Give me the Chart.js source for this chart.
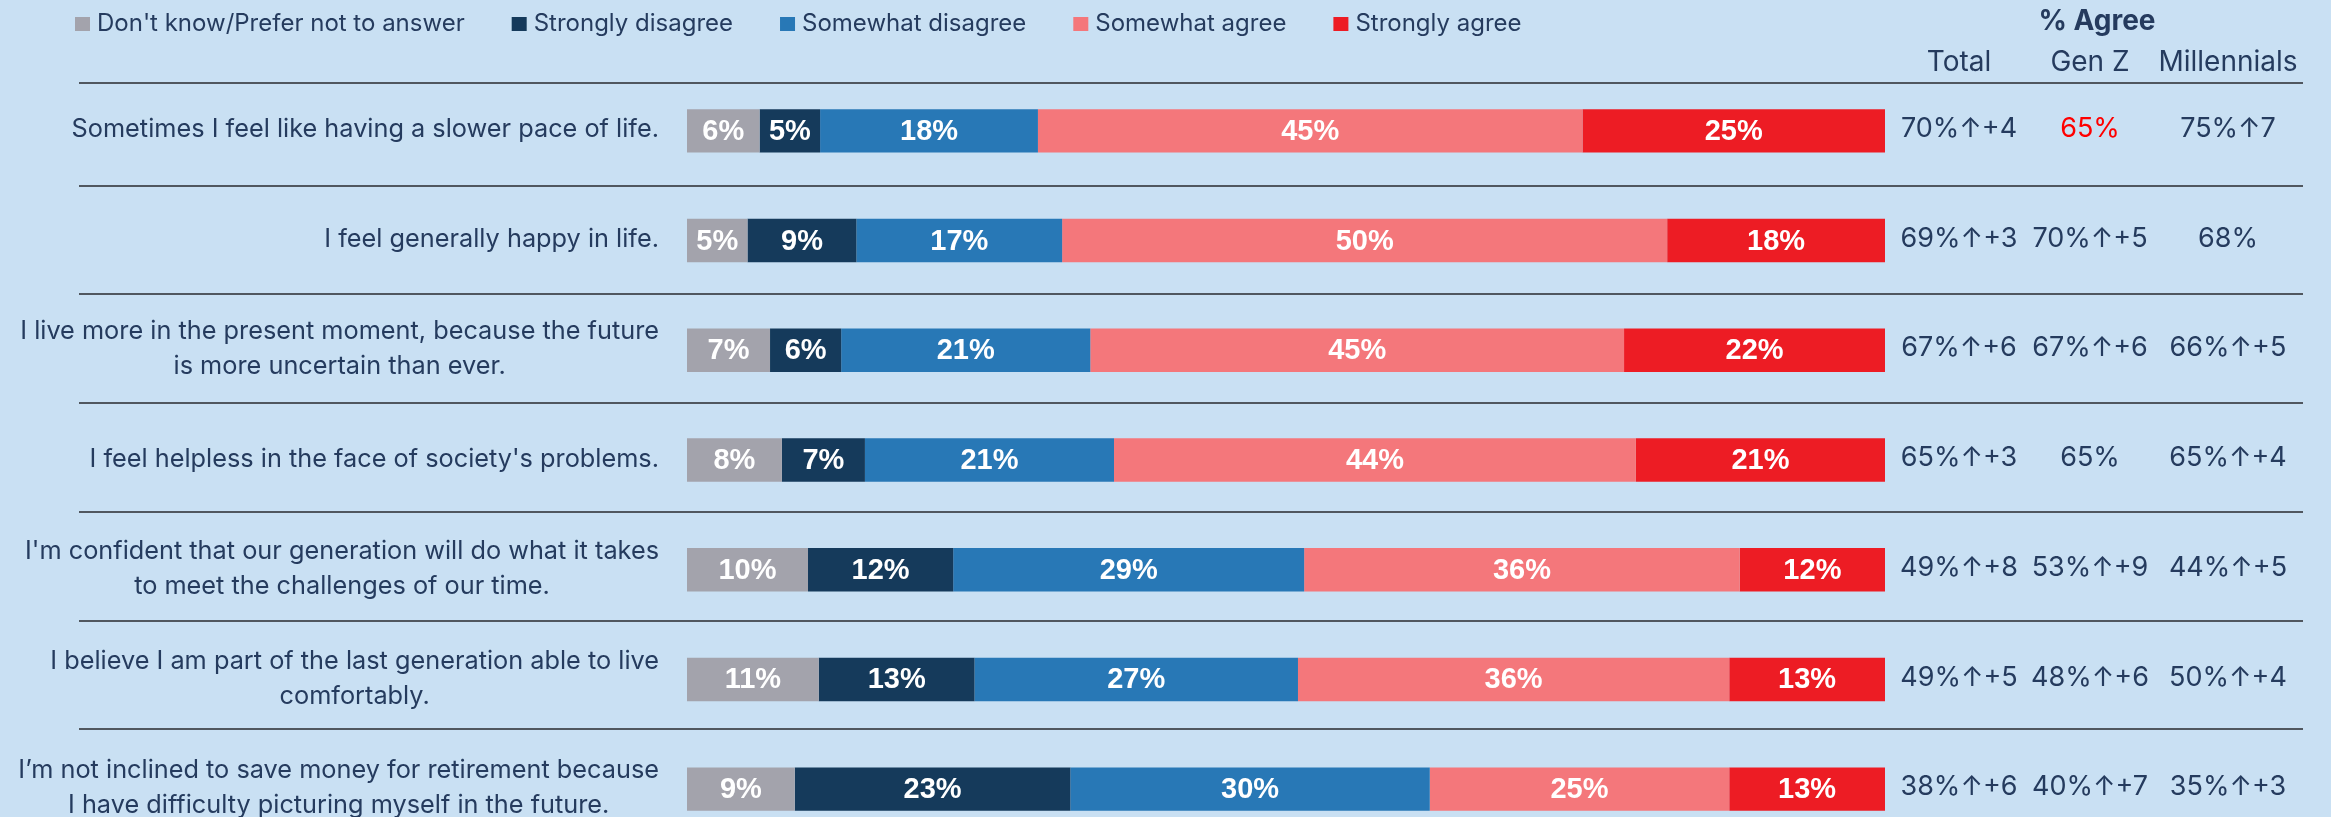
<!DOCTYPE html>
<html>
<head>
<meta charset="utf-8">
<script src="https://cdn.jsdelivr.net/npm/chart.js@4.4.1/dist/chart.umd.min.js"></script>
<style>
    html, body { margin: 0; padding: 0; background: #c9e0f3; overflow: hidden; height: 817px; }
    #wrap { width: 2331px; height: 817px; overflow: hidden; }
</style>
</head>
<body>
<div id="wrap"><canvas id="attitudesChart" width="2331" height="844"></canvas></div>
<script>
// Statements (one entry per row, one string per printed line)
const statements = [
    ["Sometimes I feel like having a slower pace of life."],
    ["I feel generally happy in life."],
    ["I live more in the present moment, because the future", "is more uncertain than ever."],
    ["I feel helpless in the face of society's problems."],
    ["I'm confident that our generation will do what it takes", "to meet the challenges of our time."],
    ["I believe I am part of the last generation able to live", "comfortably."],
    ["I’m not inclined to save money for retirement because", "I have difficulty picturing myself in the future."],
];

const responseLabels = [
    "Don't know/Prefer not to answer",
    "Strongly disagree",
    "Somewhat disagree",
    "Somewhat agree",
    "Strongly agree",
];

// Share of respondents (%) per answer
const dontKnow = [6, 5, 7, 8, 10, 11, 9];
const stronglyDisagree = [5, 9, 6, 7, 12, 13, 23];
const somewhatDisagree = [18, 17, 21, 21, 29, 27, 30];
const somewhatAgree = [45, 50, 45, 44, 36, 36, 25];
const stronglyAgree = [25, 18, 22, 21, 12, 13, 13];

// % Agree columns, with change vs. previous wave
const columnTitles = ["Total", "Gen Z", "Millennials"];
const agreeTotal = ["70%↑+4", "69%↑+3", "67%↑+6", "65%↑+3", "49%↑+8", "49%↑+5", "38%↑+6"];
const agreeGenZ = ["65%", "70%↑+5", "67%↑+6", "65%", "53%↑+9", "48%↑+6", "40%↑+7"];
const agreeMillennials = ["75%↑7", "68%", "66%↑+5", "65%↑+4", "44%↑+5", "50%↑+4", "35%↑+3"];

const answerColors = ["#a3a3ac", "#153a5b", "#2878b6", "#f4777b", "#ed1c24"];
const textColor = "#253b5e";
const ruleColor = "#50575f";
const genZAlertRow = 0;

const TEXT_FONT = "Inter, 'Noto Sans', sans-serif";
const BAR_FONT = "'Liberation Sans', Arial, sans-serif";

// 100% stacked: each row is scaled to its own total
const series = [dontKnow, stronglyDisagree, somewhatDisagree, somewhatAgree, stronglyAgree];
const rowTotals = statements.map((_, i) => series.reduce((sum, s) => sum + s[i], 0));

const datasets = series.map((values, k) => ({
    label: responseLabels[k],
    data: values.map((v, i) => (v / rowTotals[i]) * 100),
    shown: values,
    backgroundColor: answerColors[k],
    borderWidth: 0,
    categoryPercentage: 1,
    barPercentage: 0.396,
}));

const decorations = {
    id: "decorations",
    beforeDatasetsDraw(chart) {
        const ctx = chart.ctx;
        const y = chart.scales.y;
        ctx.save();
        ctx.strokeStyle = ruleColor;
        ctx.lineWidth = 2;
        // rule under the column titles
        ctx.beginPath();
        ctx.moveTo(79, 83);
        ctx.lineTo(2303, 83);
        ctx.stroke();
        // rules between statements
        for (let i = 0; i < statements.length - 1; i++) {
            const yy = Math.round((y.getPixelForValue(i) + y.getPixelForValue(i + 1)) / 2) - i;
            ctx.beginPath();
            ctx.moveTo(79, yy);
            ctx.lineTo(2303, yy);
            ctx.stroke();
        }
        ctx.restore();
    },
    afterDatasetsDraw(chart) {
        const ctx = chart.ctx;
        ctx.save();
        ctx.fillStyle = "#ffffff";
        ctx.font = "bold 29px " + BAR_FONT;
        ctx.textAlign = "center";
        ctx.textBaseline = "middle";
        chart.data.datasets.forEach((ds, k) => {
            const meta = chart.getDatasetMeta(k);
            meta.data.forEach((bar, i) => {
                const { x, base, y } = bar.getProps(["x", "base", "y"], true);
                ctx.fillText(ds.shown[i] + "%", (x + base) / 2, y + 1);
            });
        });
        ctx.restore();
    },
    afterDraw(chart) {
        const ctx = chart.ctx;
        const yScale = chart.scales.y;
        ctx.save();
        ctx.fillStyle = textColor;
        ctx.textBaseline = "middle";

        // legend
        ctx.font = "24px " + TEXT_FONT;
        ctx.textAlign = "left";
        let lx = 75;
        chart.data.datasets.forEach((ds) => {
            ctx.fillStyle = ds.backgroundColor;
            ctx.fillRect(lx, 17, 15, 14);
            ctx.fillStyle = textColor;
            ctx.fillText(ds.label, lx + 22, 24);
            lx += 22 + ctx.measureText(ds.label).width + 47;
        });

        // statements: block right-aligned, lines centred inside it
        ctx.font = "25.3px " + TEXT_FONT;
        ctx.textAlign = "center";
        statements.forEach((lines, i) => {
            const cy = yScale.getPixelForValue(i);
            const w = Math.max(...lines.map((t) => ctx.measureText(t).width));
            const cx = 659 - w / 2;
            const lineH = 35;
            const top = cy - 1 - ((lines.length - 1) * lineH) / 2;
            lines.forEach((t, j) => ctx.fillText(t, cx, top + j * lineH));
        });

        // % Agree header and columns
        const colX = [1959, 2090, 2228];
        ctx.font = "bold 28px " + TEXT_FONT;
        ctx.fillText("% Agree", 2097, 22);
        ctx.font = "28px " + TEXT_FONT;
        columnTitles.forEach((t, c) => ctx.fillText(t, colX[c], 63));
        ctx.font = "27px " + TEXT_FONT;
        [agreeTotal, agreeGenZ, agreeMillennials].forEach((col, c) => {
            col.forEach((t, i) => {
                ctx.fillStyle = c === 1 && i === genZAlertRow ? "#ff0000" : textColor;
                ctx.fillText(t, colX[c], yScale.getPixelForValue(i) - 2);
            });
        });
        ctx.restore();
    },
};

const ctx = document.getElementById("attitudesChart").getContext("2d");
new Chart(ctx, {
    type: "bar",
    data: {
        labels: statements.map((lines) => lines.join(" ")),
        datasets: datasets,
    },
    options: {
        indexAxis: "y",
        responsive: false,
        animation: false,
        devicePixelRatio: 1,
        layout: { padding: { left: 687, right: 446, top: 76, bottom: 0 } },
        scales: {
            x: { stacked: true, min: 0, max: 100, display: false },
            y: { stacked: true, display: false },
        },
        plugins: {
            legend: { display: false },
            tooltip: { enabled: false },
        },
    },
    plugins: [decorations],
});
</script>
</body>
</html>
